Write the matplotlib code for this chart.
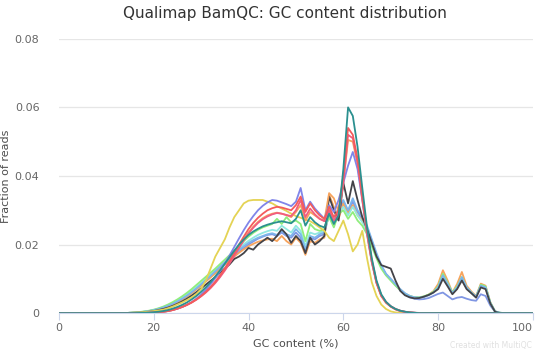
import numpy as np
import matplotlib.pyplot as plt

# GC content (%) 0..100, fraction of reads given in units of 1e-3
gc = np.arange(0, 101)

# values read from x = 15 .. 95, zero outside
red = [0, 0, 0, 0.05, 0.1, 0.15, 0.25, 0.4, 0.6, 0.9,
       1.3, 1.8, 2.4, 3.1, 4.0, 5.0, 6.2, 7.6, 9.2, 11.0,
       13.0, 15.2, 17.5, 20.0, 22.3, 24.5, 26.3, 27.8, 29.0, 30.0,
       30.6, 31.0, 30.8, 30.4, 30.0, 31.5, 34.0, 29.5, 32.0, 30.0,
       28.5, 27.5, 31.0, 28.0, 30.0, 40.0, 54.0, 52.0, 45.0, 34.0,
       24.0, 15.5, 9.0, 5.2, 3.2, 2.0, 1.2, 0.7, 0.4, 0.2,
       0.1, 0.05, 0, 0, 0, 0, 0, 0, 0, 0,
       0, 0, 0, 0, 0, 0, 0, 0, 0, 0,
       0]
pink = [0, 0, 0, 0.05, 0.1, 0.15, 0.25, 0.4, 0.6, 0.9,
        1.3, 1.8, 2.4, 3.1, 3.9, 4.9, 6.0, 7.3, 8.8, 10.5,
        12.4, 14.5, 16.7, 19.0, 21.2, 23.2, 24.9, 26.3, 27.4, 28.2,
        28.8, 29.2, 29.0, 28.6, 28.3, 30.0, 33.0, 28.0, 30.5, 28.8,
        27.5, 26.8, 30.0, 27.0, 29.0, 38.0, 52.0, 51.0, 44.0, 33.5,
        23.5, 15.0, 8.8, 5.0, 3.1, 1.9, 1.1, 0.6, 0.35, 0.2,
        0.1, 0.05, 0, 0, 0, 0, 0, 0, 0, 0,
        0, 0, 0, 0, 0, 0, 0, 0, 0, 0,
        0]
teal = [0, 0, 0.05, 0.1, 0.15, 0.25, 0.4, 0.6, 0.9, 1.3,
        1.8, 2.4, 3.1, 4.0, 5.0, 6.2, 7.5, 9.0, 10.7, 12.5,
        14.4, 16.3, 18.2, 20.0, 21.5, 22.8, 23.8, 24.6, 25.3, 25.8,
        26.2, 26.5, 26.8, 26.5, 26.2, 27.5, 30.0, 25.5, 28.0, 26.5,
        25.5, 25.0, 29.0, 26.0, 28.5, 42.0, 60.0, 57.5, 48.5, 36.5,
        25.0, 16.0, 9.5, 5.5, 3.3, 2.0, 1.2, 0.7, 0.4, 0.2,
        0.1, 0, 0, 0, 0, 0, 0, 0, 0, 0,
        0, 0, 0, 0, 0, 0, 0, 0, 0, 0,
        0]
purple = [0, 0, 0, 0.05, 0.1, 0.15, 0.25, 0.4, 0.6, 0.9,
          1.3, 1.8, 2.4, 3.2, 4.2, 5.4, 6.8, 8.4, 10.2, 12.2,
          14.4, 16.8, 19.3, 21.8, 24.2, 26.4, 28.3, 30.0, 31.3, 32.3,
          33.0, 32.8, 32.3, 31.8, 31.2, 32.5, 36.5, 30.0, 32.5, 30.5,
          29.0, 27.5, 31.5, 29.5, 33.0, 38.0, 43.0, 47.0, 42.0, 33.0,
          23.0, 15.0, 9.0, 5.2, 3.2, 2.0, 1.2, 0.7, 0.4, 0.2,
          0.1, 0, 0, 0, 0, 0, 0, 0, 0, 0,
          0, 0, 0, 0, 0, 0, 0, 0, 0, 0,
          0]
orange_a = [0, 0, 0, 0.05, 0.1, 0.15, 0.25, 0.4, 0.6, 0.9,
            1.3, 1.8, 2.4, 3.1, 4.0, 5.0, 6.2, 7.5, 9.0, 10.8,
            12.8, 14.9, 17.0, 19.3, 21.5, 23.5, 25.2, 26.6, 27.7, 28.5,
            29.0, 29.3, 29.0, 28.6, 28.0, 29.5, 31.5, 27.0, 29.5, 28.5,
            27.5, 27.0, 35.0, 33.5, 29.5, 38.0, 50.5, 50.0, 43.5, 33.0,
            23.0, 14.8, 8.7, 5.0, 3.0, 1.9, 1.1, 0.6, 0.35, 0.2,
            0.1, 0, 0, 0, 0, 0, 0, 0, 0, 0,
            0, 0, 0, 0, 0, 0, 0, 0, 0, 0,
            0]
yellow = [0.1, 0.15, 0.2, 0.3, 0.45, 0.6, 0.8, 1.0, 1.4, 1.9,
          2.5, 3.1, 3.8, 4.6, 5.6, 7.0, 9.5, 13.0, 16.5, 19.0,
          21.5, 25.0, 28.0, 30.0, 32.0, 32.8, 33.0, 33.0, 33.0, 32.5,
          32.0, 31.2, 30.5, 29.8, 29.0, 28.3, 27.8, 27.3, 26.8, 26.0,
          25.0, 24.0, 22.0, 21.0, 24.0, 27.0, 23.0, 18.0, 20.0, 24.0,
          16.0, 9.0, 5.0, 2.5, 1.2, 0.5, 0.2, 0.1, 0, 0,
          0, 0, 0, 0, 0, 0, 0, 0, 0, 0,
          0, 0, 0, 0, 0, 0, 0, 0, 0, 0,
          0]
light_blue = [0.1, 0.15, 0.25, 0.4, 0.6, 0.85, 1.2, 1.6, 2.1, 2.7,
              3.4, 4.2, 5.1, 6.1, 7.2, 8.4, 9.6, 10.9, 12.2, 13.5,
              14.8, 16.0, 17.2, 18.4, 19.5, 20.5, 21.3, 22.0, 22.5, 23.0,
              23.3, 22.8, 24.0, 23.0, 22.5, 24.5, 23.0, 18.5, 22.5, 22.0,
              23.0, 23.5, 30.0, 26.5, 31.0, 33.0, 30.0, 33.5, 30.0, 28.0,
              25.5, 21.5, 17.5, 14.0, 11.5, 10.0, 8.5, 7.0, 5.8, 5.0,
              4.6, 4.5, 4.7, 5.2, 6.0, 7.5, 11.0, 8.5, 5.8, 7.5,
              10.5, 7.5, 6.0, 4.8, 8.0, 7.5, 3.0, 0.5, 0.1, 0,
              0]
black = [0.05, 0.1, 0.15, 0.25, 0.4, 0.6, 0.9, 1.2, 1.6, 2.1,
         2.7, 3.4, 4.2, 5.1, 6.1, 7.2, 8.3, 9.4, 10.5, 11.8,
         13.0, 14.2, 15.8, 16.5, 17.5, 19.0, 18.5, 20.0, 21.0, 22.0,
         21.0, 22.5, 24.5, 23.0, 20.5, 22.5, 21.0, 17.5, 22.0, 20.0,
         21.0, 22.5, 34.0, 30.0, 27.0, 38.0, 32.0, 38.5, 33.0, 28.0,
         24.5, 20.5, 16.5, 14.0, 13.5, 13.0, 9.5, 6.5, 5.2, 4.6,
         4.3, 4.4, 4.8, 5.3, 6.0, 7.0, 10.0, 7.8, 5.5, 7.0,
         9.5, 7.0, 5.8, 4.5, 7.5, 7.0, 2.8, 0.4, 0, 0,
         0]
light_green = [0.1, 0.2, 0.3, 0.5, 0.7, 1.0, 1.4, 1.9, 2.5, 3.2,
               4.0, 4.9, 5.9, 7.0, 8.2, 9.4, 10.6, 11.8, 13.0, 14.3,
               15.6, 16.9, 18.2, 19.6, 21.0, 22.3, 23.4, 24.3, 25.0, 25.5,
               26.0, 27.5, 26.0, 28.0, 26.5, 27.0, 26.0, 21.0, 26.0, 24.5,
               24.0, 24.5, 28.0, 25.0, 29.0, 30.0, 27.5, 29.5, 27.0, 25.5,
               23.0, 19.5, 16.0, 13.0, 11.0, 9.5, 8.0, 6.7, 5.6, 5.0,
               4.6, 4.6, 4.9, 5.4, 6.2, 7.8, 11.5, 8.8, 6.0, 7.8,
               10.5, 7.5, 6.0, 4.8, 8.3, 7.8, 3.1, 0.5, 0.1, 0,
               0]
cyan = [0.1, 0.15, 0.25, 0.4, 0.6, 0.9, 1.3, 1.7, 2.2, 2.9,
        3.6, 4.5, 5.4, 6.5, 7.6, 8.8, 10.0, 11.2, 12.5, 13.8,
        15.1, 16.4, 17.7, 18.9, 20.1, 21.1, 22.0, 22.8, 23.4, 23.9,
        24.3, 24.0, 25.5, 24.5, 23.5, 25.5, 24.0, 19.5, 23.5, 23.0,
        23.5, 24.0, 28.5, 25.5, 29.0, 31.0, 28.5, 31.0, 28.5, 26.5,
        24.0, 20.5, 16.8, 13.5, 11.2, 9.8, 8.3, 6.9, 5.7, 5.0,
        4.6, 4.5, 4.8, 5.3, 6.1, 7.6, 11.2, 8.6, 5.9, 7.6,
        10.2, 7.3, 5.9, 4.7, 8.1, 7.6, 3.0, 0.5, 0.1, 0,
        0]
orange_b = [0.05, 0.1, 0.15, 0.25, 0.4, 0.6, 0.9, 1.3, 1.8, 2.4,
            3.1, 3.9, 4.8, 5.8, 6.9, 8.0, 9.2, 10.4, 11.6, 12.9,
            14.1, 15.3, 16.5, 17.6, 18.6, 19.5, 20.2, 20.8, 21.2, 21.5,
            21.7, 21.0, 22.5, 21.0, 20.0, 22.0, 20.5, 17.0, 21.0, 20.5,
            21.5, 22.0, 34.5, 31.0, 27.5, 32.0, 29.0, 31.5, 28.5, 27.0,
            24.5, 20.5, 16.5, 13.5, 11.2, 9.8, 8.3, 6.9, 5.7, 5.0,
            4.6, 4.5, 4.8, 5.4, 6.4, 8.5, 12.5, 9.5, 6.0, 8.5,
            12.0, 8.0, 6.3, 5.0, 8.6, 8.0, 3.2, 0.5, 0.1, 0,
            0]
blue_low = [0.1, 0.15, 0.25, 0.4, 0.6, 0.85, 1.2, 1.6, 2.1, 2.7,
            3.4, 4.2, 5.1, 6.1, 7.2, 8.3, 9.5, 10.7, 11.9, 13.1,
            14.3, 15.5, 16.7, 17.9, 19.0, 20.0, 20.9, 21.7, 22.3, 22.8,
            23.0, 22.5, 23.5, 22.5, 22.0, 23.5, 22.0, 18.0, 22.0, 21.5,
            22.5, 23.0, 29.0, 26.0, 30.0, 32.5, 29.5, 32.5, 29.5, 27.5,
            25.0, 21.0, 17.0, 13.8, 11.3, 9.8, 8.2, 6.6, 5.4, 4.6,
            4.2, 4.0, 4.1, 4.4, 5.0, 5.6, 6.0, 5.0, 4.0, 4.5,
            4.7, 4.2, 3.8, 3.6, 5.5, 5.0, 2.2, 0.4, 0.1, 0,
            0]

series = [(blue_low, '#8096e3'), (orange_b, '#f7a35c'), (cyan, '#91e8e1'),
          (light_green, '#90ed7d'), (light_blue, '#7cb5ec'), (black, '#434348'),
          (yellow, '#e4d354'), (orange_a, '#f7a35c'), (purple, '#8085e9'),
          (pink, '#f15c80'), (red, '#f45b5b'), (teal, '#2b908f')]


def full(vals):
    # zeros below 15 % and above 95 %
    return np.concatenate([np.zeros(15), np.array(vals) / 1000.0, np.zeros(5)])


fig = plt.figure(figsize=(5.4, 3.53), dpi=100)
ax = fig.add_axes([0.109, 0.113, 0.878, 0.777])

for vals, col in series:
    ax.plot(gc, full(vals), color=col, lw=1.3, solid_joinstyle='round')

ax.set_xlim(0, 100)
ax.set_ylim(0, 0.08)
ax.set_xticks([0, 20, 40, 60, 80, 100])
ax.set_yticks([0, 0.02, 0.04, 0.06, 0.08])
ax.set_yticklabels(['0', '0.02', '0.04', '0.06', '0.08'])
ax.grid(axis='y', color='#e6e6e6', lw=0.9)
ax.set_axisbelow(True)
for s in ['top', 'right', 'left']:
    ax.spines[s].set_visible(False)
ax.spines['bottom'].set_color('#ccd6eb')
ax.tick_params(axis='x', colors='#ccd6eb', length=5, labelcolor='#666666',
               labelsize=8, pad=2)
ax.tick_params(axis='y', length=0, labelcolor='#666666', labelsize=8, pad=14)
# last x label is pulled inside the figure, as in the reference
ax.get_xticklabels()[-1].set_horizontalalignment('right')
ax.get_xticklabels()[-1].set_x(101)
ax.set_xlabel('GC content (%)', color='#4d4d4d', fontsize=8, labelpad=4)
ax.set_ylabel('Fraction of reads', color='#4d4d4d', fontsize=8)
ax.yaxis.set_label_coords(-0.1, 0.5)

fig.text(0.528, 0.962, 'Qualimap BamQC: GC content distribution',
         ha='center', va='center', fontsize=11, color='#333333')
fig.text(0.985, 0.02, 'Created with MultiQC', ha='right', va='center',
         fontsize=5.5, color='#e0e0e0')

fig.savefig('out.png', dpi=100)
